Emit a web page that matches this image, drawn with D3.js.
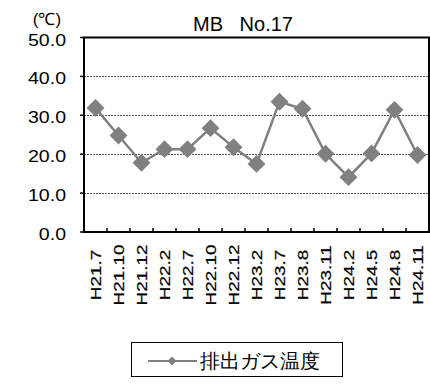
<!DOCTYPE html>
<html><head><meta charset="utf-8">
<script src="https://cdn.jsdelivr.net/npm/d3@7/dist/d3.min.js"></script>
<style>body{margin:0;background:#fff}svg{display:block}text{font-family:"Liberation Sans",Arial,sans-serif;fill:#000}</style>
</head><body>
<script>
const categories = ["H21.7","H21.10","H21.12","H22.2","H22.7","H22.10","H22.12","H23.2","H23.7","H23.8","H23.11","H24.2","H24.5","H24.8","H24.11"];
const values = [31.9,24.8,17.8,21.3,21.3,26.7,21.8,17.5,33.5,31.7,20.1,14.1,20.2,31.4,19.8];
const yTicks = [0,10,20,30,40,50];
const yTickLabels = ["0.0","10.0","20.0","30.0","40.0","50.0"];
const seriesName = "排出ガス温度";
const title = "MB No.17";
const unit = "(℃)";

const W=430,H=390;
const L=84,R=429,T=37.5,B=232;
const svg=d3.select("body").append("svg").attr("width",W).attr("height",H);
const x=d3.scaleBand().domain(categories).range([L,R]);
const y=d3.scaleLinear().domain([0,50]).range([B,T]);

// gridlines
svg.append("g").selectAll("line").data(yTicks.filter(v=>v>0&&v<50)).join("line")
  .attr("x1",L).attr("x2",R).attr("y1",d=>Math.round(y(d))+0.5).attr("y2",d=>Math.round(y(d))+0.5)
  .attr("stroke","#555").attr("stroke-dasharray","2,1").attr("stroke-width",1);

// plot border
svg.append("rect").attr("x",L).attr("y",T).attr("width",R-L).attr("height",B-T)
  .attr("fill","none").attr("stroke","#000").attr("stroke-width",2);

// y axis ticks & labels
const yg=svg.append("g");
yg.selectAll("line").data(yTicks).join("line")
  .attr("x1",L-4).attr("x2",L).attr("y1",d=>y(d)).attr("y2",d=>y(d)).attr("stroke","#000").attr("stroke-width",1.5);
yg.selectAll("text").data(yTicks).join("text")
  .attr("transform",d=>`translate(66,${y(d)+8}) scale(1.15,1)`)
  .attr("text-anchor","end").attr("font-size",17).text((d,i)=>yTickLabels[i]);

// x ticks (inside, between categories)
const xt=categories.slice(1).map(c=>x(c));
svg.append("g").selectAll("line").data(xt).join("line")
  .attr("x1",d=>d).attr("x2",d=>d).attr("y1",B).attr("y2",B-4).attr("stroke","#000").attr("stroke-width",1.5);

// x labels
svg.append("g").selectAll("text").data(categories).join("text")
  .attr("transform",d=>`translate(${x(d)+x.bandwidth()/2+5},275) rotate(-90) scale(1.35,1)`)
  .attr("text-anchor","middle").attr("font-size",14).attr("stroke","#000").attr("stroke-width",0.2).text(d=>d);

// line
const cx=d=>x(d)+x.bandwidth()/2;
svg.append("path").datum(values)
  .attr("d",d3.line().x((d,i)=>cx(categories[i])).y(d=>y(d)))
  .attr("fill","none").attr("stroke","#808080").attr("stroke-width",2.5);
svg.append("g").selectAll("path").data(values).join("path")
  .attr("transform",(d,i)=>`translate(${cx(categories[i])},${y(d)}) rotate(45)`)
  .attr("d",d3.symbol().type(d3.symbolSquare).size(160)).attr("fill","#808080");

// title
svg.append("text").attr("x",243).attr("y",30.5).attr("text-anchor","middle")
  .attr("font-size",20).attr("word-spacing",11).text(title);
svg.append("text").attr("x",47).attr("y",25).attr("text-anchor","middle")
  .attr("font-size",17).text(unit);

// legend
const lg=svg.append("g");
lg.append("rect").attr("x",131.5).attr("y",342.5).attr("width",211).attr("height",34)
  .attr("fill","#fff").attr("stroke","#000").attr("stroke-width",1);
lg.append("line").attr("x1",148).attr("x2",197).attr("y1",361).attr("y2",361).attr("stroke","#808080").attr("stroke-width",2);
lg.append("path").attr("transform","translate(172,361) rotate(45)")
  .attr("d",d3.symbol().type(d3.symbolSquare).size(40)).attr("fill","#808080");
lg.append("text").attr("x",200).attr("y",368).attr("font-size",20)
  .attr("font-family","'Noto Sans CJK JP',sans-serif").text(seriesName);
</script>
</body></html>
